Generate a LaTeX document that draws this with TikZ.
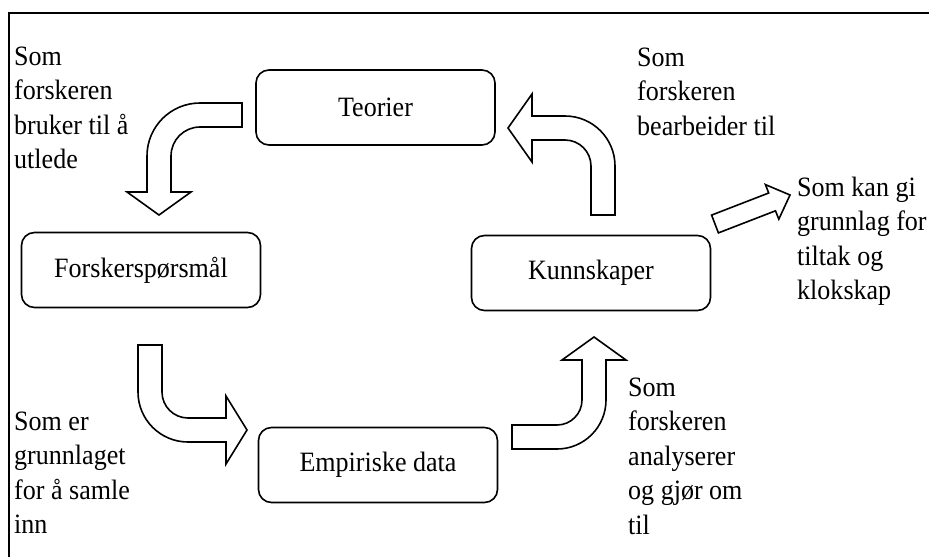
\documentclass[tikz,border=0pt]{standalone}
\usepackage{fontspec}
\setmainfont{Liberation Serif}[FakeStretch=0.93]
\begin{document}
\begin{tikzpicture}[x=1pt,y=-1pt,
  box/.style={draw, line width=1.6pt, rounded corners=13pt,
    minimum width=239pt, minimum height=75pt, inner sep=0pt,
    font=\fontsize{28}{34.5}\selectfont},
  blockarrow/.style={draw, line width=1.6pt, fill=white, line join=miter},
  note/.style={anchor=north west, align=left, inner sep=0pt,
    font=\fontsize{28}{34.5}\selectfont},
  frame/.style={line width=2.6pt}]
\useasboundingbox (0,0) rectangle (929,557);

% outer frame (top and left edges)
\draw[frame] (9,557) -- (9,13) -- (929,13);

% the four stages
\node[box] (teorier) at (375.5,107.5) {Teorier};
\node[box] (sporsmal) at (141,270) {Forskerspørsmål};
\node[box] (data) at (378,465) {Empiriske data};
\node[box] (kunnskap) at (591,273) {Kunnskaper};

% curved block arrows between the stages
\draw[blockarrow] (242,103) -- (200,103)
  .. controls (170.73,103) and (147,126.73) .. (147,156)
  -- (147,192) -- (127,192) -- (159,215) -- (191,192) -- (171,192)
  -- (171,156) .. controls (171,139.98) and (183.98,127) .. (200,127)
  -- (242,127) -- cycle;

\draw[blockarrow] (138,345) -- (138,392)
  .. controls (138,419.6) and (160.4,442) .. (188,442)
  -- (226,442) -- (226,464) -- (247,430) -- (226,396) -- (226,418)
  -- (188,418) .. controls (173.64,418) and (162,406.36) .. (162,392)
  -- (162,345) -- cycle;

\draw[blockarrow] (512,425) -- (557,425)
  .. controls (570.8,425) and (582,413.8) .. (582,400)
  -- (582,360) -- (562,360) -- (594,337) -- (626,360) -- (606,360)
  -- (606,400) .. controls (606,427.06) and (584.06,449) .. (557,449)
  -- (512,449) -- cycle;

\draw[blockarrow] (591,215) -- (591,166)
  .. controls (591,151.64) and (579.36,140) .. (565,140)
  -- (532,140) -- (532,162) -- (508,128) -- (532,94) -- (532,116)
  -- (565,116) .. controls (592.6,116) and (615,138.4) .. (615,166)
  -- (615,215) -- cycle;

% straight block arrow out of the cycle
\draw[blockarrow] (711.6,215.1) -- (768.7,193.0) -- (765.4,184.6)
  -- (790,195) -- (778.8,219.2) -- (775.5,210.8) -- (718.4,232.9) -- cycle;

% explanatory texts
\node[note] (t1) at (14,45) {\rule{0pt}{20pt}Som\\forskeren\\bruker til å\\utlede};
\node[note] (t2) at (637,46) {\rule{0pt}{20pt}Som\\forskeren\\bearbeider til};
\node[note] (t3) at (797,176) {\rule{0pt}{20pt}Som kan gi\\grunnlag for\\tiltak og\\klokskap};
\node[note] (t4) at (14,410) {\rule{0pt}{20pt}Som er\\grunnlaget\\for å samle\\inn};
\node[note] (t5) at (628,376) {\rule{0pt}{20pt}Som\\forskeren\\analyserer\\og gjør om\\til};
\end{tikzpicture}
\end{document}
